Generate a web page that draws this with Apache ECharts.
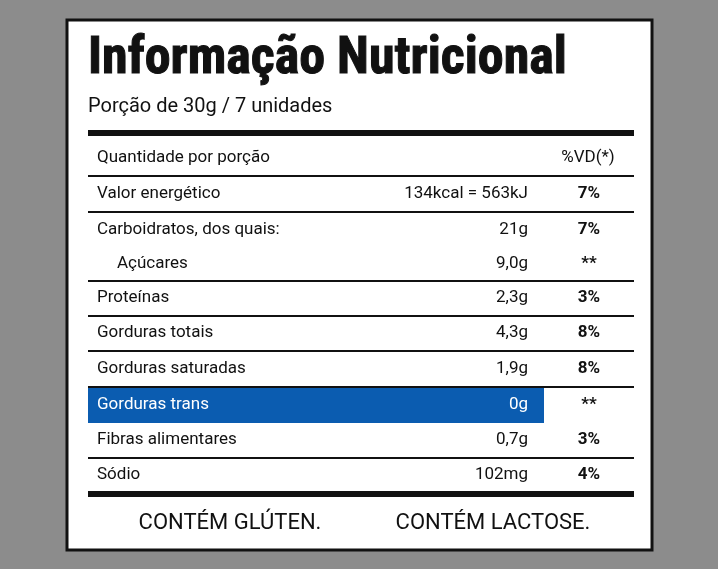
<!DOCTYPE html>
<html><head><meta charset="utf-8">
<script src="https://cdn.jsdelivr.net/npm/echarts@6/dist/echarts.min.js"></script>
<style>html,body{margin:0;padding:0;background:#8c8c8c}#c{width:718px;height:569px}</style>
</head><body><div id="c"></div>
<script>
const title = "Informação Nutricional";
const subtitle = "Porção de 30g / 7 unidades";
const headerLabels = ["Quantidade por porção", "%VD(*)"];
const nutrients = ["Valor energético","Carboidratos, dos quais:","Açúcares","Proteínas","Gorduras totais","Gorduras saturadas","Gorduras trans","Fibras alimentares","Sódio"];
const amounts = ["134kcal = 563kJ","21g","9,0g","2,3g","4,3g","1,9g","0g","0,7g","102mg"];
const dailyValues = ["7%","7%","**","3%","8%","8%","**","3%","4%"];
const indented = [false,false,true,false,false,false,false,false,false];
const lineAfter = [true,false,true,true,true,true,false,true,false];
const highlight = [false,false,false,false,false,false,true,false,false];
const footer = ["CONTÉM GLÚTEN.","CONTÉM LACTOSE."];

const F = "'Liberation Sans Narrow','Roboto Condensed','Liberation Sans',sans-serif";
const B = "Roboto,'Liberation Sans',sans-serif";
const g = [];
g.push({type:'rect',shape:{x:67,y:20,width:585,height:530},style:{fill:'#fff',stroke:'#111',lineWidth:3}});
g.push({type:'text',x:88,y:60,style:{text:title,font:"bold 52px "+F,fill:'#111',stroke:'#111',lineWidth:1,textVerticalAlign:'middle'}});
g.push({type:'text',x:88,y:107,style:{text:subtitle,font:"20px "+B,fill:'#111',textVerticalAlign:'middle'}});
g.push({type:'rect',shape:{x:88,y:130,width:546,height:6},style:{fill:'#111'}});
g.push({type:'text',x:97,y:158,style:{text:headerLabels[0],font:"17px "+B,fill:'#111',textVerticalAlign:'middle'}});
g.push({type:'text',x:588,y:158,style:{text:headerLabels[1],font:"17px "+B,fill:'#111',textVerticalAlign:'middle',textAlign:'center'}});
g.push({type:'rect',shape:{x:88,y:175,width:546,height:2},style:{fill:'#111'}});
const rowY = [194,230,264,298,333,369,405,440,475];
const rowEnd = [212,247,281,316,351,387,423,458,493];
nutrients.forEach((n,i)=>{
  const y = rowY[i];
  if (highlight[i]) g.push({type:'rect',shape:{x:88,y:rowEnd[i-1]+1,width:456,height:rowEnd[i]-rowEnd[i-1]-1},style:{fill:'#0b5cb0'}});
  const col = highlight[i] ? '#fff' : '#111';
  g.push({type:'text',x:indented[i]?117:97,y:y,style:{text:n,font:"17px "+B,fill:col,textVerticalAlign:'middle'}});
  g.push({type:'text',x:528,y:y,style:{text:amounts[i],font:"17px "+B,fill:col,textVerticalAlign:'middle',textAlign:'right'}});
  g.push({type:'text',x:589,y:y,style:{text:dailyValues[i],font:"bold 17px "+B,fill:'#111',textVerticalAlign:'middle',textAlign:'center'}});
  if (lineAfter[i]) g.push({type:'rect',shape:{x:88,y:rowEnd[i]-1,width:546,height:2},style:{fill:'#111'}});
});
g.push({type:'rect',shape:{x:88,y:491,width:546,height:6},style:{fill:'#111'}});
g.push({type:'text',x:230,y:523,style:{text:footer[0],font:"22px "+B,fill:'#111',textVerticalAlign:'middle',textAlign:'center'}});
g.push({type:'text',x:493,y:523,style:{text:footer[1],font:"22px "+B,fill:'#111',textVerticalAlign:'middle',textAlign:'center'}});
const chart = echarts.init(document.getElementById('c'));
chart.setOption({backgroundColor:'#8c8c8c',graphic:g});
</script></body></html>
